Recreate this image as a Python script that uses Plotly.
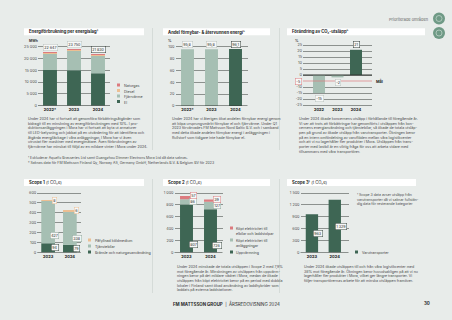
import plotly.graph_objects as go

W, H = 452, 320
def fx(x): return x / W
def fy(y): return 1 - y / H

BG = "#e8ecea"
DARK = "#3e6654"
SAGE = "#a6bfb3"
PEACH = "#ecbf93"
RED = "#dc7b7f"
GRID = "#8c918e"
TXT = "#3a3a3a"
FONT = "Inter"

# ---------------- data ----------------
years_a = ["2022*", "2023", "2024"]
energy_el = [15100, 15000, 13700]
energy_fjarr = [6900, 8450, 7600]
energy_diesel = [450, 200, 450]
energy_naturgas = [197, 100, 80]

years_b = ["2022*", "2023", "2024"]
renewable_share = [95.8, 95.8, 96.1]

years_c = ["2022", "2023", "2024"]
co2_change = [-15, -2, 21]
co2_target = -5

years_s = ["2023", "2024"]
s1_fuel = [94, 79]
s1_cars = [427, 338]
s1_refrig = [8, 6]

s2_heating = [807, 726]
s2_el_sites = [86, 127]
s2_el_cars = [57, 39]

s3_transport = [963, 1329]

tick_energy = [0, 5000, 10000, 15000, 20000, 25000]
tick_pct = [0, 20, 40, 60, 80, 100]
tick_change = [25, 20, 15, 10, 5, 0, -10, -15, -20, -25]
tick_s1 = [0, 100, 200, 300, 400, 500, 600]
tick_s2 = [0, 200, 400, 600, 800, 1000]
tick_s3 = [0, 300, 600, 900, 1200, 1500]


def num(v):
    if isinstance(v, float):
        return f"{v:.1f}".replace(".", ",")
    return f"{v:,}".replace(",", " ")


def lin_range(p0, v0, p1, v1, top_px, bottom_px):
    k = (v1 - v0) / (p1 - p0)
    return [v0 + (bottom_px - p0) * k, v0 + (top_px - p0) * k]


layout = dict(
    width=W, height=H, margin=dict(l=0, r=0, t=0, b=0),
    paper_bgcolor=BG, plot_bgcolor="rgba(0,0,0,0)", showlegend=False,
    barmode="relative", font=dict(family=FONT, size=4, color=TXT),
)
shapes, annotations = [], []


def refs(n):
    return ("x", "y") if n == 1 else (f"x{n}", f"y{n}")


def set_axes(n, xdom, cats, xrange, ytop, ybot, yrange, tickvals):
    xk = "xaxis" if n == 1 else f"xaxis{n}"
    yk = "yaxis" if n == 1 else f"yaxis{n}"
    xr, yr = refs(n)
    layout[xk] = dict(domain=[fx(xdom[0]), fx(xdom[1])], anchor=yr, type="category",
                      categoryorder="array", categoryarray=cats, range=xrange,
                      showgrid=False, zeroline=False, showline=False, ticks="",
                      tickvals=cats, ticktext=[f"<b>{c}</b>" for c in cats],
                      tickfont=dict(size=4, color="#222", family=FONT),
                      automargin=False, fixedrange=True)
    layout[yk] = dict(domain=[fy(ybot), fy(ytop)], anchor=xr, range=yrange,
                      tickvals=tickvals, ticktext=[num(t) for t in tickvals],
                      showgrid=True, gridcolor=GRID, gridwidth=0.6,
                      zeroline=False, showline=False, ticks="",
                      tickfont=dict(size=3.8, color="#555", family=FONT),
                      automargin=False, fixedrange=True)
    shapes.append(dict(type="line", xref=f"{xr} domain", yref=yr, x0=0, x1=1, y0=0, y1=0,
                       line=dict(color="#2e3531", width=1.1), layer="above"))


def box_label(n, i, y, text, border, yanchor="middle", yshift=0, xshift=0):
    # i = category index on the categorical x axis
    xr, yr = refs(n)
    annotations.append(dict(xref=xr, yref=yr, x=i, y=y, text=text, showarrow=False,
                            font=dict(size=3.7, color="#2a2a2a", family=FONT),
                            bgcolor="#f7f8f7", bordercolor=border, borderwidth=0.5,
                            borderpad=0.7, yanchor=yanchor, yshift=yshift, xshift=xshift))


def text_block(x, y, lines, size=3.6, color="#4a4a4a"):
    annotations.append(dict(xref="paper", yref="paper", x=fx(x), y=fy(y), xanchor="left",
                            yanchor="top", align="left", showarrow=False,
                            text="<br>".join(lines),
                            font=dict(size=size, color=color, family=FONT)))


def legend_item(x, y, color, lines):
    shapes.append(dict(type="rect", xref="paper", yref="paper", x0=fx(x), x1=fx(x + 3),
                       y0=fy(y + 1.5), y1=fy(y - 1.5), fillcolor=color, line=dict(width=0)))
    annotations.append(dict(xref="paper", yref="paper", x=fx(x + 4.5), y=fy(y - 2.6),
                            xanchor="left", yanchor="top", align="left", showarrow=False,
                            text="<br>".join(lines), font=dict(size=3.6, color="#444", family=FONT)))


def title_box(x0, x1, y0, y1, text):
    shapes.append(dict(type="rect", xref="paper", yref="paper", x0=fx(x0), x1=fx(x1),
                       y0=fy(y1), y1=fy(y0), fillcolor="#ffffff", line=dict(width=0), layer="below"))
    annotations.append(dict(xref="paper", yref="paper", x=fx(x0 + 2.5), y=fy((y0 + y1) / 2),
                            xanchor="left", yanchor="middle", showarrow=False, text=text,
                            font=dict(size=4.2, color="#1e1e1e", family=FONT)))


def unit_label(x, y, text):
    annotations.append(dict(xref="paper", yref="paper", x=fx(x), y=fy(y), text=f"<b>{text}</b>",
                            showarrow=False, xanchor="center", yanchor="middle",
                            font=dict(size=3.4, color="#333", family=FONT)))


fig = go.Figure()

# ---------------- Panel 1: energy by source ----------------
set_axes(1, (38, 110), years_a, [-0.5, 2.5], 42, 105.7,
         lin_range(105.7, 0, 46.7, 25000, 42, 105.7), tick_energy)
for name, vals, col in [("El", energy_el, DARK), ("Fjärrvärme", energy_fjarr, SAGE),
                        ("Diesel", energy_diesel, PEACH), ("Naturgas", energy_naturgas, RED)]:
    fig.add_trace(go.Bar(x=years_a, y=vals, name=name, marker=dict(color=col, line=dict(width=0)),
                         width=0.58, xaxis="x", yaxis="y", hoverinfo="skip"))
for i in range(len(years_a)):
    tot = energy_el[i] + energy_fjarr[i] + energy_diesel[i] + energy_naturgas[i]
    box_label(1, i, tot, num(tot), "#2f3a35" if i == 2 else "#b9c2be", "bottom", 1.5)
unit_label(33, 40.5, "MWh")
legend_item(117, 85, RED, ["Naturgas"])
legend_item(117, 90.5, PEACH, ["Diesel"])
legend_item(117, 96, SAGE, ["Fjärrvärme"])
legend_item(117, 101.5, DARK, ["El"])

# ---------------- Panel 2: renewable share ----------------
set_axes(2, (175.5, 247.5), years_b, [-0.5, 2.5], 42, 106,
         lin_range(106, 0, 46.7, 100, 42, 106), tick_pct)
fig.add_trace(go.Bar(x=years_b, y=renewable_share, marker=dict(color=[SAGE, SAGE, DARK], line=dict(width=0)),
                     width=0.54, xaxis="x2", yaxis="y2", hoverinfo="skip"))
for i in range(len(years_b)):
    box_label(2, i, renewable_share[i], num(renewable_share[i]),
              "#2f3a35" if i == 2 else "#b9c2be", "bottom", 1.5)
unit_label(170, 40.5, "%")

# ---------------- Panel 3: CO2 change ----------------
unit3 = 18.5
set_axes(3, (303, 372), years_c, [-(16 / unit3), 2 + 16 / unit3], 42, 106,
         lin_range(75, 0, 45, 25, 42, 106), tick_change)
fig.add_trace(go.Bar(x=years_c, y=co2_change, marker=dict(color=[SAGE, SAGE, DARK], line=dict(width=0)),
                     width=0.65, xaxis="x3", yaxis="y3", hoverinfo="skip"))
for i in range(len(years_c)):
    v = co2_change[i]
    border = "#2f3a35" if i == 2 else "#b9c2be"
    if v >= 0:
        box_label(3, i, v, num(v), border, "bottom", 1.5)
    else:
        box_label(3, i, v, num(v), border, "top", -2)
shapes.append(dict(type="line", xref="x3 domain", yref="y3", x0=0, x1=1, y0=co2_target, y1=co2_target,
                   line=dict(color=RED, width=0.7), layer="above"))
annotations.append(dict(xref="paper", yref="y3", x=fx(298.5), y=co2_target, text=num(co2_target),
                        showarrow=False, xanchor="center", font=dict(size=3.7, color="#333"),
                        bgcolor="#f7f8f7", bordercolor=RED, borderwidth=0.5, borderpad=0.7))
annotations.append(dict(xref="paper", yref="y3", x=fx(373.5), y=co2_target, text="<b>Mål</b>",
                        showarrow=False, xanchor="left", font=dict(size=3.8, color="#222")))
unit_label(297, 40.5, "%")

# ---------------- Panel 4: Scope 1 ----------------
set_axes(4, (37.25, 80.75), years_s, [-0.5, 1.5], 189, 252.5,
         lin_range(252.5, 0, 193, 600, 189, 252.5), tick_s1)
for vals, col in [(s1_fuel, DARK), (s1_cars, SAGE), (s1_refrig, PEACH)]:
    fig.add_trace(go.Bar(x=years_s, y=vals, marker=dict(color=col, line=dict(width=0)),
                         width=0.63, xaxis="x4", yaxis="y4", hoverinfo="skip"))
for i in range(len(years_s)):
    tot = s1_fuel[i] + s1_cars[i] + s1_refrig[i]
    box_label(4, i, s1_fuel[i] / 2, num(s1_fuel[i]), "#3a4a42", xshift=6.75)
    box_label(4, i, s1_fuel[i] + s1_cars[i] * 0.17, num(s1_cars[i]), "#8fa89c", xshift=6.75)
    box_label(4, i, tot, num(s1_refrig[i]), PEACH, xshift=6.75)
legend_item(88, 240, PEACH, ["Påfyllnad köldmedium"])
legend_item(88, 246, SAGE, ["Tjänstebilar"])
legend_item(88, 252, DARK, ["Bränsle och naturgasanvändning"])

# ---------------- Panel 5: Scope 2 ----------------
set_axes(5, (174.5, 222.5), years_s, [-0.5, 1.5], 189, 252.5,
         lin_range(252.5, 0, 193, 1000, 189, 252.5), tick_s2)
for vals, col in [(s2_heating, DARK), (s2_el_sites, SAGE), (s2_el_cars, RED)]:
    fig.add_trace(go.Bar(x=years_s, y=vals, marker=dict(color=col, line=dict(width=0)),
                         width=0.54, xaxis="x5", yaxis="y5", hoverinfo="skip"))
for i in range(len(years_s)):
    tot = s2_heating[i] + s2_el_sites[i] + s2_el_cars[i]
    box_label(5, i, s2_heating[i] * 0.17, num(s2_heating[i]), "#3a4a42", xshift=6.5)
    box_label(5, i, s2_heating[i] + s2_el_sites[i] / 2, num(s2_el_sites[i]), "#8fa89c", xshift=6.5)
    box_label(5, i, tot, num(s2_el_cars[i]), RED, xshift=6.5)
legend_item(230, 228, RED, ["Köpt elektricitet till", "elbilar och laddstolpar"])
legend_item(230, 240, SAGE, ["Köpt elektricitet till", "anläggningar"])
legend_item(230, 252, DARK, ["Uppvärmning"])

# ---------------- Panel 6: Scope 3 ----------------
set_axes(6, (300.5, 348.5), years_s, [-0.5, 1.6], 189, 252.5,
         lin_range(252.5, 0, 193, 1500, 189, 252.5), tick_s3)
fig.add_trace(go.Bar(x=years_s, y=s3_transport, marker=dict(color=DARK, line=dict(width=0)),
                     width=0.54, xaxis="x6", yaxis="y6", hoverinfo="skip"))
for i in range(len(years_s)):
    box_label(6, i, s3_transport[i] / 2, num(s3_transport[i]), "#3a4a42", xshift=6.5)
legend_item(355, 252, DARK, ["Varutransporter"])
text_block(355, 190.5, ["¹ Scope 3 data avser utsläpp från",
                        "varutransporter då vi saknar fullstän-",
                        "dig data för resterande kategorier"], size=3.5)

# ---------------- titles, separators, texts ----------------
title_box(24, 144, 28.3, 35.2, "<b>Energiförbrukning per energislag¹</b>")
title_box(163, 270, 28.3, 35.2, "<b>Andel förnybar- & återvunnen energi²</b>")
title_box(287, 425, 28.3, 35.2, "<b>Förändring av CO₂-utsläpp²</b>")
title_box(24, 144, 179, 186, "<b>Scope 1</b> (t CO₂e)")
title_box(163, 270, 179, 186, "<b>Scope 2</b> (t CO₂e)")
title_box(287, 416, 179, 186, "<b>Scope 3¹</b> (t CO₂e)")

for xs in (152.5, 279.5):
    shapes.append(dict(type="line", xref="paper", yref="paper", x0=fx(xs), x1=fx(xs),
                       y0=fy(150), y1=fy(28), line=dict(color="#cdd4d0", width=0.7)))
    shapes.append(dict(type="line", xref="paper", yref="paper", x0=fx(xs), x1=fx(xs),
                       y0=fy(293), y1=fy(179), line=dict(color="#cdd4d0", width=0.7)))

text_block(26, 115.2, [
    "Under 2024 har vi fortsatt att genomföra förbättringsåtgärder som",
    "bidragit till en minskning av energiförbrukningen med 10%. I pro-",
    "duktionsanläggningen i Mora har vi fortsatt att byta ut armaturer",
    "till LED-belysning och jobbat på en utvärdering för att identifiera och",
    "åtgärda energiläckage i våra anläggningar. I Mora har vi även",
    "utrustat fler maskiner med energimätare. Även förbrukningen av",
    "fjärrvärme har minskat till följd av en mildare vinter i Mora under 2024."])
text_block(26, 154, [
    "¹ Exkluderar Aquafix Brasseries Ltd samt Guangzhou Dimmer Electrons Mora Ltd då data saknas.",
    "² Saknas data för FM Mattsson Finland Oy, Norway AS, Germany GmbH, Netherlands B.V. & Belgium BV för 2023"],
    size=3.5)
text_block(170, 115.2, [
    "Under 2024 har vi återigen ökat andelen förnybar energi genom",
    "att köpa ursprungsmärkt förnybar el och fjärrvärme. Under Q1",
    "2023 förvärvades FM Mattsson Nord Baltic B.V. och i samband",
    "med detta ökade andelen förnybar energi i anläggningen i",
    "Rullstorf som tidigare inte hade förnybar el."])
text_block(297, 115.2, [
    "Under 2024 ökade koncernens utsläpp i förhållande till föregående år.",
    "Vi ser att trots att förbättringar har genomförts i utsläppen från kon-",
    "cernens energianvändning och tjänstebilar, så ökade de totala utsläp-",
    "pen på grund av ökade utsläpp från varutransporter. Ökningen beror",
    "på en intern omfördelning av varuflöden mellan våra logistikcenter",
    "och att vi nu lagerhåller fler produkter i Mora. Utsläppen från trans-",
    "porter med lastbil är en viktig fråga för oss att arbeta vidare med",
    "tillsammans med våra transportörer."], size=3.6)
text_block(175, 262.5, [
    "Under 2024 minskade de totala utsläppen i Scope 2 med 7,9%",
    "mot föregående år. Minskningen av utsläppen från uppvärm-",
    "ningen beror på det mildare vädret i Mora, medan de ökade",
    "utsläppen från köpt elektricitet beror på en period med dubbla",
    "lokaler i Finland samt ökad användning av laddhybrider som",
    "laddats på externa laddstationer."])
text_block(302, 262.5, [
    "Under 2024 ökade utsläppen till och från våra logistikcenter med",
    "38% mot föregående år. Ökningen beror huvudsakligen på att vi nu",
    "lagerhåller fler produkter i Mora, vilket ger längre transporter. Vi",
    "följer transportörernas arbete för att minska utsläppen framöver."])

# header / footer
annotations.append(dict(xref="paper", yref="paper", x=fx(430), y=fy(18.5), xanchor="right",
                        yanchor="middle", showarrow=False, text="Prioriterade områden",
                        font=dict(size=3.9, color="#666", family=FONT)))
for cy in (18.5, 33):
    shapes.append(dict(type="circle", xref="paper", yref="paper", x0=fx(433), x1=fx(445),
                       y0=fy(cy + 6), y1=fy(cy - 6), fillcolor="#6f9a86", line=dict(width=0)))
    shapes.append(dict(type="circle", xref="paper", yref="paper", x0=fx(436), x1=fx(442),
                       y0=fy(cy + 3), y1=fy(cy - 3), fillcolor="rgba(0,0,0,0)",
                       line=dict(color="#d5e4dc", width=0.6)))
annotations.append(dict(xref="paper", yref="paper", x=fx(226), y=fy(303), xanchor="center",
                        yanchor="middle", showarrow=False,
                        text="<b>FM MATTSSON GROUP</b>  |  ÅRSREDOVISNING 2024",
                        font=dict(size=4.4, color="#2a2a2a", family=FONT)))
annotations.append(dict(xref="paper", yref="paper", x=fx(427), y=fy(303), xanchor="center",
                        yanchor="middle", showarrow=False, text="<b>30</b>",
                        font=dict(size=4.4, color="#2a2a2a", family=FONT)))

layout["shapes"] = shapes
layout["annotations"] = annotations
fig.update_layout(**layout)
fig.write_html("out.html")
